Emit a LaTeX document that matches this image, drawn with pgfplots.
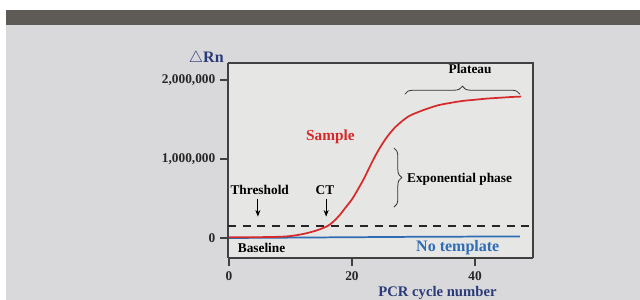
\documentclass[border=0pt]{standalone}
\usepackage{pgfplots}
\pgfplotsset{compat=1.18}
\usepackage{fontspec}
\setmainfont{Liberation Serif}
\usetikzlibrary{decorations.pathreplacing,arrows.meta}
\definecolor{slide}{HTML}{D9D9DB}
\definecolor{plotbg}{HTML}{E6E6E4}
\definecolor{band}{HTML}{5E5A55}
\definecolor{redc}{HTML}{D62A2A}
\definecolor{bluec}{HTML}{2E6DB4}
\definecolor{navy}{HTML}{2B3A78}
\begin{document}
\begin{tikzpicture}[x=0.75pt,y=0.75pt]
\fill[white] (0,0) rectangle (640,300);
\fill[slide] (6,0) rectangle (640,275);
\fill[band] (6,275) rectangle (640,290);
\fill[plotbg] (228,42) rectangle (533,237);
\begin{axis}[
  at={(171pt,31.5pt)}, anchor=south west,
  scale only axis, width=228.75pt, height=146.25pt,
  xmin=-0.16, xmax=49.43, ymin=-253000, ymax=2215000,
  axis line style={black!75, line width=0.8pt},
  axis x line*=bottom, axis y line*=left,
  clip=false,
  xtick={0,20,40}, ytick={0,1000000,2000000},
  yticklabels={0,{1,000,000},{2,000,000}},
  scaled y ticks=false, scaled x ticks=false,
  tick align=outside, tick pos=left,
  major tick length=6pt,
  tick style={black!75, line width=0.8pt},
  ticklabel style={font=\fontsize{10}{11}\selectfont\bfseries, text=black!85},
  /pgf/number format/assume math mode=true,
  xticklabel style={yshift=-1pt},
]
\draw[black!75, line width=0.8pt] (axis cs:-0.16,2215000) -- (axis cs:49.43,2215000) -- (axis cs:49.43,-253000);
\addplot[bluec, line width=1.3pt] coordinates {(0,0) (10,5000) (20,10000) (30,15000) (40,18000) (47.3,20000)};
\addplot[redc, line width=1.3pt, smooth] coordinates {
(0,10000) (4,10000) (8,15000) (10,25000) (12,50000) (14,90000) (16,150000)
(17,210000) (18,290000) (19,390000) (20,490000) (21,620000) (22,760000)
(23,920000) (24,1070000) (25,1200000) (26,1310000) (27,1400000) (28,1470000)
(29,1530000) (30,1570000) (32,1630000) (34,1680000) (36,1710000) (38,1735000)
(40,1750000) (42,1765000) (44,1775000) (46,1785000) (47.5,1790000)};
\addplot[black!85, dashed, line width=1pt, dash pattern=on 6pt off 5pt] coordinates {(-0.16,150000) (49.43,150000)};
\node[font=\fontsize{12}{13}\selectfont\bfseries, text=navy, anchor=south east] at (axis cs:-0.1,2120000) {$\bigtriangleup$Rn};
\node[font=\fontsize{11.5}{12}\selectfont\bfseries, text=redc] at (axis cs:16.5,1280000) {Sample};
\node[font=\fontsize{10}{11}\selectfont\bfseries] at (axis cs:39.2,2140000) {Plateau};
\draw[decorate, decoration={brace, amplitude=6pt}, black!80, line width=0.6pt] (axis cs:28.6,1820000) -- (axis cs:47.3,1820000);
\draw[decorate, decoration={brace, amplitude=6pt}, black!80, line width=0.6pt] (axis cs:26.8,1140000) -- (axis cs:26.8,390000);
\node[font=\fontsize{10}{11}\selectfont\bfseries, anchor=west] at (axis cs:28.2,745000) {Exponential phase};
\node[font=\fontsize{10}{11}\selectfont\bfseries] at (axis cs:5,610000) {Threshold};
\draw[-{Stealth[length=5pt]}, line width=0.9pt] (axis cs:4.7,500000) -- (axis cs:4.7,270000);
\node[font=\fontsize{10}{11}\selectfont\bfseries] at (axis cs:15.6,610000) {CT};
\draw[-{Stealth[length=5pt]}, line width=0.9pt] (axis cs:15.8,500000) -- (axis cs:15.8,270000);
\node[font=\fontsize{10}{11}\selectfont\bfseries] at (axis cs:5.3,-120000) {Baseline};
\node[font=\fontsize{12}{13}\selectfont\bfseries, text=bluec] at (axis cs:37.2,-120000) {No template};
\node[font=\fontsize{11}{12}\selectfont\bfseries, text=navy] at (axis cs:33.9,-690000) {PCR cycle number};
\end{axis}
\pgfresetboundingbox
\path[use as bounding box] (0,0) rectangle (640,300);
\end{tikzpicture}
\end{document}
